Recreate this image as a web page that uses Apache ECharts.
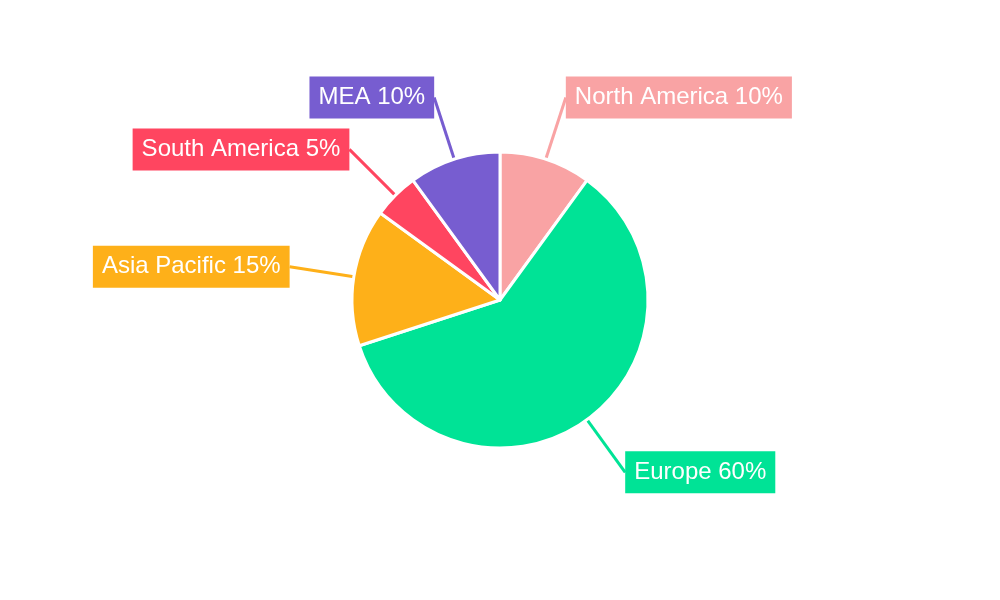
<!DOCTYPE html><html><head><meta charset="utf-8"><script src="https://cdn.jsdelivr.net/npm/echarts@6/dist/echarts.min.js"></script></head><body style="margin:0"><div id="c" style="width:1000px;height:600px"></div><script>
const categories=['North America','Europe','Asia Pacific','South America','MEA'];
const values=[10,60,15,5,10];
const colors=['#F9A3A4','#00E396','#FEB019','#FF4560','#775DD0'];
const chart=echarts.init(document.getElementById('c'));
chart.setOption({series:[{type:'pie',center:[500,300],radius:148,startAngle:90,clockwise:true,
data:categories.map((n,i)=>({name:n,value:values[i],itemStyle:{color:colors[i]},label:{backgroundColor:colors[i]},labelLine:{lineStyle:{color:colors[i]}}})),
itemStyle:{borderColor:'#fff',borderWidth:3},
label:{formatter:'{b} {c}%',color:'#fff',fontSize:24,fontFamily:'Liberation Sans, Arial',padding:[9,9],distanceToLabelLine:0},
labelLine:{length:65,length2:0,lineStyle:{width:3}}}]});
</script></body></html>
